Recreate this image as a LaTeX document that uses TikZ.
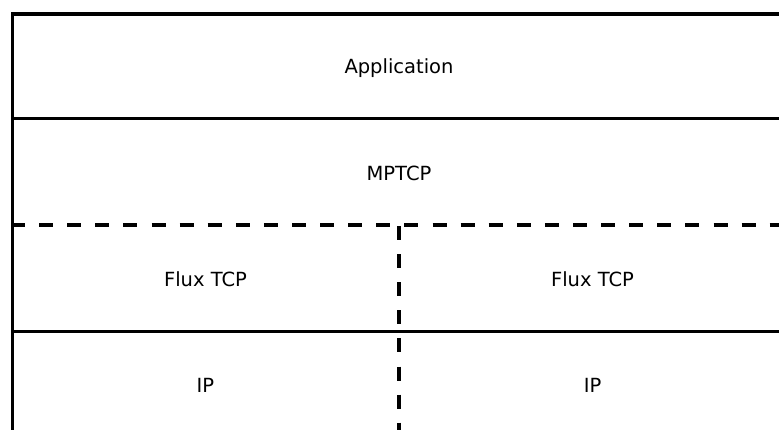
\documentclass[tikz,border=0pt]{standalone}
\usepackage{fontspec}
\setmainfont{DejaVu Sans}
\tikzset{
  frameline/.style={line width=3.6pt},
  layerline/.style={line width=3pt},
  splitline/.style={line width=3.2pt, dash pattern=on 14pt off 14.1pt},
  layer/.style={font=\fontsize{19.5pt}{22pt}\selectfont, inner sep=0pt, anchor=base}
}
\begin{document}
\begin{tikzpicture}[x=1pt,y=-1pt]
  \useasboundingbox (0,0) rectangle (779,430);
  \clip (0,0) rectangle (779,430);
  \coordinate (tl) at (12.5,14);
  \coordinate (tr) at (786,14);
  \coordinate (bl) at (12.5,437);
  \coordinate (br) at (786,437);
  \coordinate (al) at (12.5,119);
  \coordinate (ar) at (786,119);
  \coordinate (ml) at (11,225);
  \coordinate (mr) at (786,225);
  \coordinate (fl) at (12.5,331);
  \coordinate (fr) at (786,331);
  \coordinate (st) at (399,226);
  \coordinate (sb) at (399,437);
  \draw
    (399,73.5) node[layer] (app){Application}
    (399,180.5) node[layer] (mptcp){MPTCP}
    (205.5,286.5) node[layer] (tcp1){Flux TCP}
    (592.5,286.5) node[layer] (tcp2){Flux TCP}
    (205.5,392) node[layer] (ip1){IP}
    (592.5,392) node[layer] (ip2){IP};
  \begin{scope}[-]
    \draw[frameline] (bl) -- (tl) -- (tr) -- (br) -- cycle;
    \draw[layerline] (al) to (ar);
    \draw[layerline] (fl) to (fr);
    \draw[splitline] (ml) to (mr);
    \draw[splitline] (st) to (sb);
  \end{scope}
\end{tikzpicture}
\end{document}
